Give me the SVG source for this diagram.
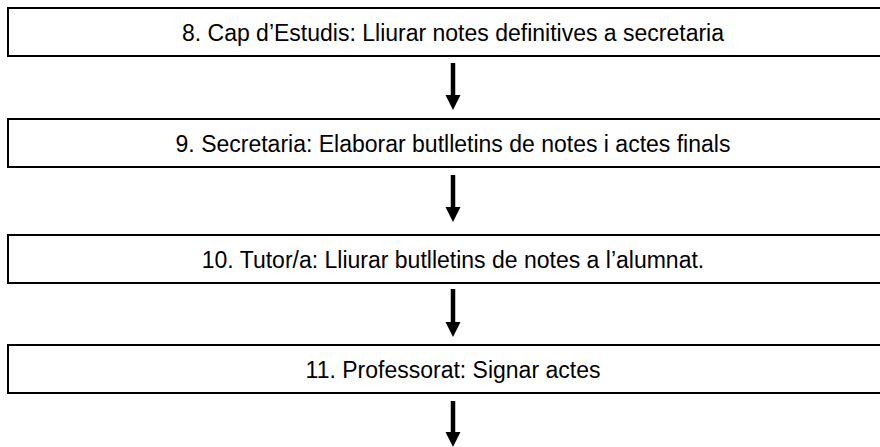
<svg xmlns="http://www.w3.org/2000/svg" width="880" height="447" viewBox="0 0 880 447">
<defs>
<style>
.box{fill:#fff;stroke:#000;stroke-width:2}
.lbl{font-family:"Liberation Sans",Arial,sans-serif;font-size:23px;fill:#000;text-anchor:middle}
.arr{stroke:#000;stroke-width:4.5;fill:none}
</style>
<marker id="ah" markerUnits="userSpaceOnUse" markerWidth="16" markerHeight="16" refX="1" refY="7.5" orient="auto" viewBox="0 0 16 15">
<path d="M0,0 L15,7.5 L0,15 z" fill="#000"/>
</marker>
</defs>
<rect width="880" height="447" fill="#fff"/>
<g id="n8">
<rect class="box" x="8" y="8" width="890" height="48"/>
<text class="lbl" x="453" y="40.5">8. Cap d’Estudis: Lliurar notes definitives a secretaria</text>
</g>
<g id="n9">
<rect class="box" x="8" y="119" width="890" height="48"/>
<text class="lbl" x="453" y="151.5">9. Secretaria: Elaborar butlletins de notes i actes finals</text>
</g>
<g id="n10">
<rect class="box" x="8" y="235" width="890" height="48"/>
<text class="lbl" x="453" y="267.5">10. Tutor/a: Lliurar butlletins de notes a l’alumnat.</text>
</g>
<g id="n11">
<rect class="box" x="8" y="345" width="890" height="48"/>
<text class="lbl" x="453" y="377.5">11. Professorat: Signar actes</text>
</g>
<g id="connectors">
<line class="arr" x1="453" y1="63" x2="453" y2="96" marker-end="url(#ah)"/>
<line class="arr" x1="453" y1="175" x2="453" y2="208" marker-end="url(#ah)"/>
<line class="arr" x1="453" y1="289" x2="453" y2="323" marker-end="url(#ah)"/>
<line class="arr" x1="453" y1="401" x2="453" y2="433" marker-end="url(#ah)"/>
</g>
</svg>
